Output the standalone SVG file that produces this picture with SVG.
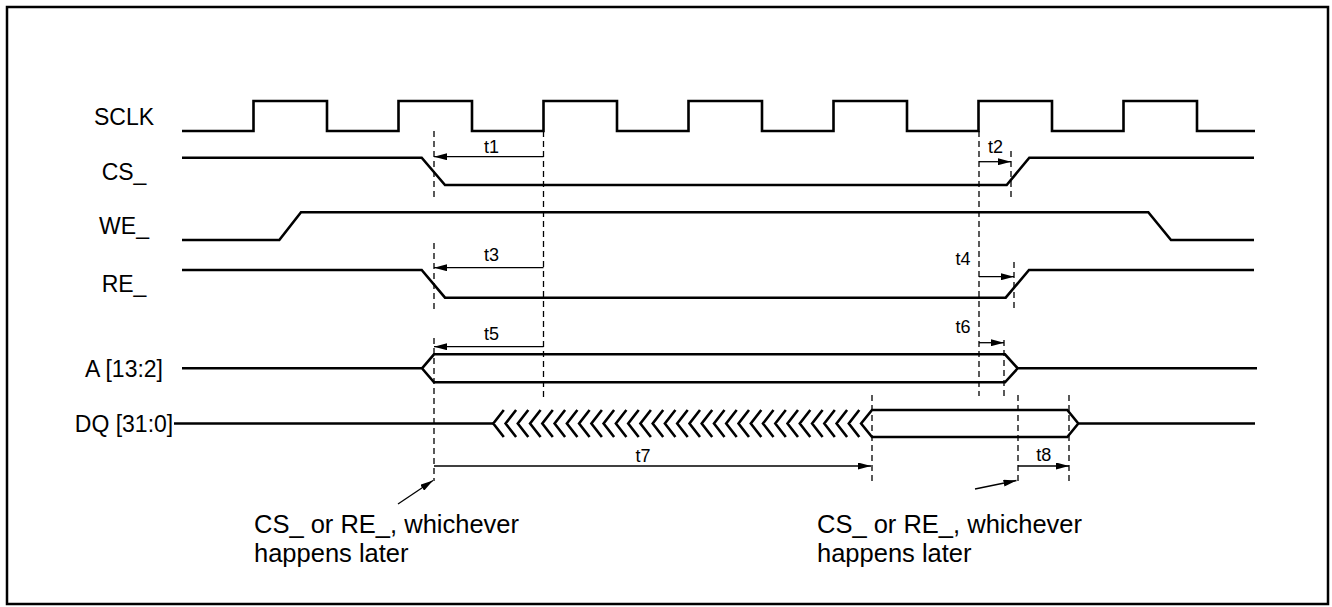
<svg xmlns="http://www.w3.org/2000/svg" width="1332" height="607" viewBox="0 0 1332 607">
<style>
.sig{fill:none;stroke:#000;stroke-width:2.6;stroke-linejoin:miter}
.dash{fill:none;stroke:#000;stroke-width:1.3;stroke-dasharray:6 4}
.arr{fill:none;stroke:#000;stroke-width:1.3}
.lbl{font-family:"Liberation Sans",Arial,sans-serif;font-size:23px;fill:#000;text-anchor:middle}
.t{font-family:"Liberation Sans",Arial,sans-serif;font-size:18px;fill:#000;text-anchor:middle}
.note{font-family:"Liberation Sans",Arial,sans-serif;font-size:25.5px;fill:#000}
</style>
<defs>
<marker id="ah" markerUnits="userSpaceOnUse" markerWidth="13" markerHeight="7" refX="13" refY="3.5" orient="auto">
<path d="M0,0 L13,3.5 L0,7 z" fill="#000"/>
</marker>
</defs>
<rect x="7" y="7" width="1321" height="597" fill="#fff" stroke="#000" stroke-width="2.5"/>

<g id="sclk">
<text class="lbl" x="124" y="124.5">SCLK</text>
<path class="sig" d="M182,131 H253.5 V101 H327 V131 H398.5 V101 H472 V131 H543.5 V101 H617 V131 H688.5 V101 H762 V131 H833.5 V101 H907 V131 H978.5 V101 H1052 V131 H1123.5 V101 H1197 V131 H1255"/>
</g>
<g id="cs">
<text class="lbl" x="124" y="179.5">CS_</text>
<path class="sig" d="M182,157.7 H421.7 L445,185 H1006.7 L1029.3,157.7 H1254"/>
</g>
<g id="we">
<text class="lbl" x="124" y="234">WE_</text>
<path class="sig" d="M182,240 H279.3 L301,212.3 H1148.3 L1171,240 H1254"/>
</g>
<g id="re">
<text class="lbl" x="124" y="292">RE_</text>
<path class="sig" d="M182,270 H421.7 L445,297.7 H1005.7 L1029,270 H1254"/>
</g>
<g id="addr">
<text class="lbl" x="124" y="376.5">A [13:2]</text>
<path class="sig" d="M182,368.3 H422 M422,368.3 L434,354.3 H1005 L1017.7,368.3 L1005,382.3 H434 Z M1017.7,368.3 H1257"/>
</g>
<g id="dq">
<text class="lbl" x="124" y="432">DQ [31:0]</text>
<path class="sig" d="M174,423.5 H493.3"/>
<path class="sig" d="M503.8,410 L493.3,423.5 L503.8,437 M516.1,410 L505.6,423.5 L516.1,437 M528.3,410 L517.8,423.5 L528.3,437 M540.6,410 L530.1,423.5 L540.6,437 M552.8,410 L542.3,423.5 L552.8,437 M565.1,410 L554.6,423.5 L565.1,437 M577.4,410 L566.9,423.5 L577.4,437 M589.6,410 L579.1,423.5 L589.6,437 M601.9,410 L591.4,423.5 L601.9,437 M614.1,410 L603.6,423.5 L614.1,437 M626.4,410 L615.9,423.5 L626.4,437 M638.7,410 L628.2,423.5 L638.7,437 M650.9,410 L640.4,423.5 L650.9,437 M663.2,410 L652.7,423.5 L663.2,437 M675.4,410 L664.9,423.5 L675.4,437 M687.7,410 L677.2,423.5 L687.7,437 M700,410 L689.5,423.5 L700,437 M712.2,410 L701.7,423.5 L712.2,437 M724.5,410 L714,423.5 L724.5,437 M736.7,410 L726.2,423.5 L736.7,437 M749,410 L738.5,423.5 L749,437 M761.3,410 L750.8,423.5 L761.3,437 M773.5,410 L763,423.5 L773.5,437 M785.8,410 L775.3,423.5 L785.8,437 M798,410 L787.5,423.5 L798,437 M810.3,410 L799.8,423.5 L810.3,437 M822.6,410 L812.1,423.5 L822.6,437 M834.8,410 L824.3,423.5 L834.8,437 M847.1,410 L836.6,423.5 L847.1,437 M859.3,410 L848.8,423.5 L859.3,437"/>
<path class="sig" d="M872,410 H1067.3 L1078.3,423.5 L1067.3,437 H872 L861.1,423.5 Z M1078.3,423.5 H1255"/>
</g>

<g id="connectors">
<path class="dash" d="M434,131 V200 M434,243 V310 M434,338 V481"/>
<path class="dash" d="M543.5,131 V397"/>
<path class="dash" d="M979,131 V396"/>
<path class="dash" d="M1011,151 V200"/>
<path class="dash" d="M1014,262 V311"/>
<path class="dash" d="M1004,340 V396"/>
<path class="dash" d="M872,395 V484"/>
<path class="dash" d="M1018,395 V484"/>
<path class="dash" d="M1069,395 V484"/>

<line class="arr" x1="543.5" y1="156.7" x2="434" y2="156.7" marker-end="url(#ah)"/>
<line class="arr" x1="979" y1="161.7" x2="1011" y2="161.7" marker-end="url(#ah)"/>
<line class="arr" x1="543.5" y1="267.7" x2="434" y2="267.7" marker-end="url(#ah)"/>
<line class="arr" x1="979" y1="276.7" x2="1014" y2="276.7" marker-end="url(#ah)"/>
<line class="arr" x1="543.5" y1="346.7" x2="434" y2="346.7" marker-end="url(#ah)"/>
<line class="arr" x1="979" y1="342.7" x2="1004" y2="342.7" marker-end="url(#ah)"/>
<line class="arr" x1="434" y1="466" x2="871" y2="466" marker-end="url(#ah)"/>
<line class="arr" x1="1018" y1="466" x2="1069" y2="466" marker-end="url(#ah)"/>
<line class="arr" x1="398" y1="504" x2="433" y2="480.5" marker-end="url(#ah)"/>
<line class="arr" x1="975" y1="489" x2="1016.5" y2="480.5" marker-end="url(#ah)"/>

<text class="t" x="491.5" y="153.3">t1</text>
<text class="t" x="995.5" y="153.3">t2</text>
<text class="t" x="491.5" y="261">t3</text>
<text class="t" x="963" y="265">t4</text>
<text class="t" x="491.5" y="340">t5</text>
<text class="t" x="963" y="333.3">t6</text>
<text class="t" x="643" y="461.7">t7</text>
<text class="t" x="1043.7" y="460.5">t8</text>
</g>

<g id="note-left">
<text class="note" x="254" y="532.7">CS_ or RE_, whichever</text>
<text class="note" x="254" y="561.7">happens later</text>
</g>
<g id="note-right">
<text class="note" x="817" y="533.3">CS_ or RE_, whichever</text>
<text class="note" x="817" y="561.7">happens later</text>
</g>
</svg>
